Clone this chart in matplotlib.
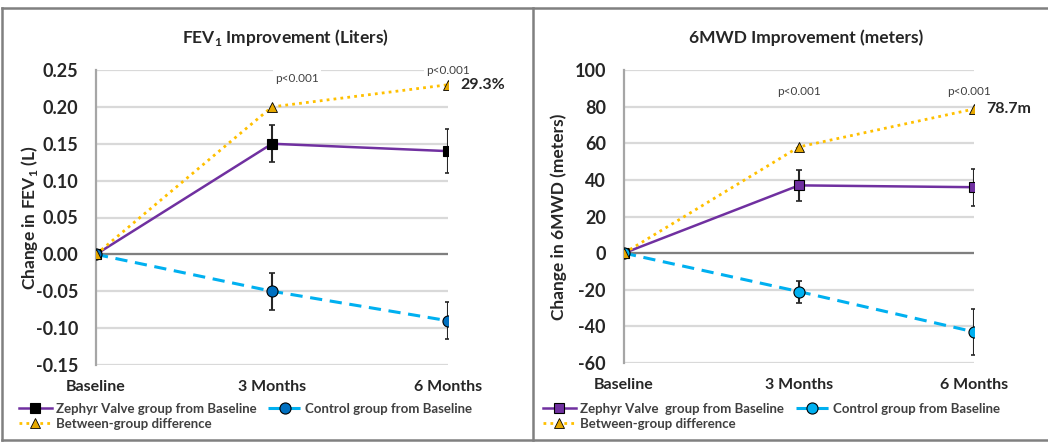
import numpy as np
import matplotlib
matplotlib.use('Agg')
import matplotlib.pyplot as plt
from matplotlib.lines import Line2D

plt.rcParams['font.family'] = ['Lato', 'DejaVu Sans']
plt.rcParams['mathtext.fontset'] = 'custom'
plt.rcParams['mathtext.rm'] = 'Lato'
plt.rcParams['mathtext.bf'] = 'Lato:bold'

timepoints = ['Baseline', '3 Months', '6 Months']

# FEV1 change from baseline (liters)
fev_zephyr = [0.0, 0.15, 0.14]
fev_zephyr_err = [0.0, 0.025, 0.03]
fev_control = [0.0, -0.05, -0.09]
fev_control_err = [0.0, 0.025, 0.025]
fev_diff = [0.0, 0.20, 0.23]
fev_label = '29.3%'

# 6MWD change from baseline (meters)
mwd_zephyr = [0.0, 37, 36]
mwd_zephyr_err = [0.0, 8.5, 10]
mwd_control = [0.0, -21, -43]
mwd_control_err = [0.0, 6, 12.5]
mwd_diff = [0.0, 58, 78.7]
mwd_label = '78.7m'

W, H = 1048, 442
fig = plt.figure(figsize=(W / 100, H / 100), dpi=100)
fig.patch.set_facecolor('white')


def px_axes(x0, y0, x1, y1):
    return fig.add_axes([x0 / W, 1 - y1 / H, (x1 - x0) / W, (y1 - y0) / H])


def draw_panel(ax, zephyr, zerr, control, cerr, diff, ticks, yfmt,
               zephyr_face, control_face, zephyr_name):
    x = np.arange(len(timepoints))
    ax.set_xlim(0, 2)
    ax.set_ylim(ticks[0], ticks[-1])
    for t in ticks:
        ax.axhline(t, color='#D9D9D9', lw=1.6, zorder=0)
    ax.axhline(0, color='#7F7F7F', lw=1.6, zorder=1)
    for s in ['top', 'right', 'bottom']:
        ax.spines[s].set_visible(False)
    ax.spines['left'].set_color('#A6A6A6')
    ax.spines['left'].set_linewidth(1.6)
    ax.set_yticks(ticks)
    ax.set_yticklabels([yfmt(t) for t in ticks])
    ax.set_xticks(x)
    ax.set_xticklabels(timepoints)
    ax.tick_params(axis='y', length=0, pad=13, labelsize=13, labelcolor='#262626')
    ax.tick_params(axis='x', length=0, pad=11, labelsize=11.5, labelcolor='#262626')
    for lab in ax.get_yticklabels() + ax.get_xticklabels():
        lab.set_fontweight('bold')

    # error bars first, then the series lines with markers on top
    err = dict(fmt='none', ecolor='#262626', elinewidth=1.5, capsize=2,
               capthick=1.2, zorder=2)
    ax.errorbar(x, zephyr, yerr=zerr, **err)
    ax.errorbar(x, control, yerr=cerr, **err)
    hz, = ax.plot(x, zephyr, color='#7030A0', lw=1.8, marker='s', ms=7.5,
                  mfc=zephyr_face, mec='black', mew=0.8, zorder=3,
                  label=zephyr_name)
    hc, = ax.plot(x, control, color='#00B0F0', lw=2.2, ls=(0, (4, 2.5)),
                  marker='o', ms=8, mfc=control_face, mec='black', mew=0.8,
                  zorder=3, label='Control group from Baseline')
    hd, = ax.plot(x, diff, color='#FFC000', lw=2, ls=(0, (1, 1.5)), marker='^',
                  ms=6.5, mfc='#E6A800', mec='black', mew=0.6, zorder=4,
                  label='Between-group difference')
    return hz, hd, hc


def panel_legend(handles, x0, y0):
    leg = fig.legend(handles=list(handles), loc='upper left', ncol=2,
                     bbox_to_anchor=(x0 / W, 1 - y0 / H), frameon=False,
                     fontsize=9.5, handlelength=2.5, handletextpad=0.3,
                     columnspacing=0.9, labelspacing=0.2, borderpad=0,
                     borderaxespad=0)
    for t in leg.get_texts():
        t.set_fontweight('bold')
        t.set_color('#404040')


p_style = dict(fontsize=8.5, color='#404040', ha='center', va='center',
               bbox=dict(fc='white', ec='none', pad=1.5), zorder=5)

# FEV1 panel
ax1 = px_axes(96, 70, 448, 365)
h1 = draw_panel(ax1, fev_zephyr, fev_zephyr_err, fev_control, fev_control_err,
                fev_diff, [-0.15, -0.10, -0.05, 0.0, 0.05, 0.10, 0.15, 0.20, 0.25],
                lambda v: f'{v:.2f}', 'black', '#0070C0',
                'Zephyr Valve group from Baseline')
ax1.set_ylabel(r'Change in FEV$_{\mathbf{1}}$ (L)', fontsize=12.5,
               fontweight='bold', color='#262626')
ax1.yaxis.set_label_coords(-0.16, 0.5)
ax1.text(1.14, 0.239, 'p<0.001', **p_style)
ax1.text(2.0, 0.25, 'p<0.001', **p_style)
ax1.annotate(fev_label, (2, fev_diff[2]), xytext=(9, 0),
             textcoords='offset points', fontsize=11.5, fontweight='bold',
             color='#262626', va='center', ha='left', annotation_clip=False)
fig.text(285 / W, 1 - 38 / H, r'FEV$_{\mathbf{1}}$ Improvement (Liters)',
         fontsize=12.5, fontweight='bold', color='#262626', ha='center',
         va='center')
panel_legend(h1, 19, 403)

# 6MWD panel
ax2 = px_axes(624, 70, 974, 363)
h2 = draw_panel(ax2, mwd_zephyr, mwd_zephyr_err, mwd_control, mwd_control_err,
                mwd_diff, [-60, -40, -20, 0, 20, 40, 60, 80, 100],
                lambda v: f'{v:d}', '#7030A0', '#00B0F0',
                'Zephyr Valve  group from Baseline')
ax2.set_ylabel('Change in 6MWD (meters)', fontsize=12.5, fontweight='bold',
               color='#262626')
ax2.yaxis.set_label_coords(-0.164, 0.5)
ax2.text(1.0, 88, 'p<0.001', **p_style)
ax2.text(1.97, 88, 'p<0.001', **p_style)
ax2.annotate(mwd_label, (2, mwd_diff[2]), xytext=(9, 0),
             textcoords='offset points', fontsize=11.5, fontweight='bold',
             color='#262626', va='center', ha='left', annotation_clip=False)
fig.text(806 / W, 1 - 38 / H, '6MWD Improvement (meters)', fontsize=12.5,
         fontweight='bold', color='#262626', ha='center', va='center')
panel_legend(h2, 543, 403)

# panel frames
frame = dict(color='#808080', lw=1.8, transform=fig.transFigure)
for xs, ys in [((2, W), (8, 8)), ((2, W), (440, 440)),
               ((2, 2), (8, 440)), ((533, 533), (8, 440))]:
    fig.add_artist(Line2D([xs[0] / W, xs[1] / W],
                          [1 - ys[0] / H, 1 - ys[1] / H], **frame))

fig.savefig('out.png', dpi=100, facecolor='white')
